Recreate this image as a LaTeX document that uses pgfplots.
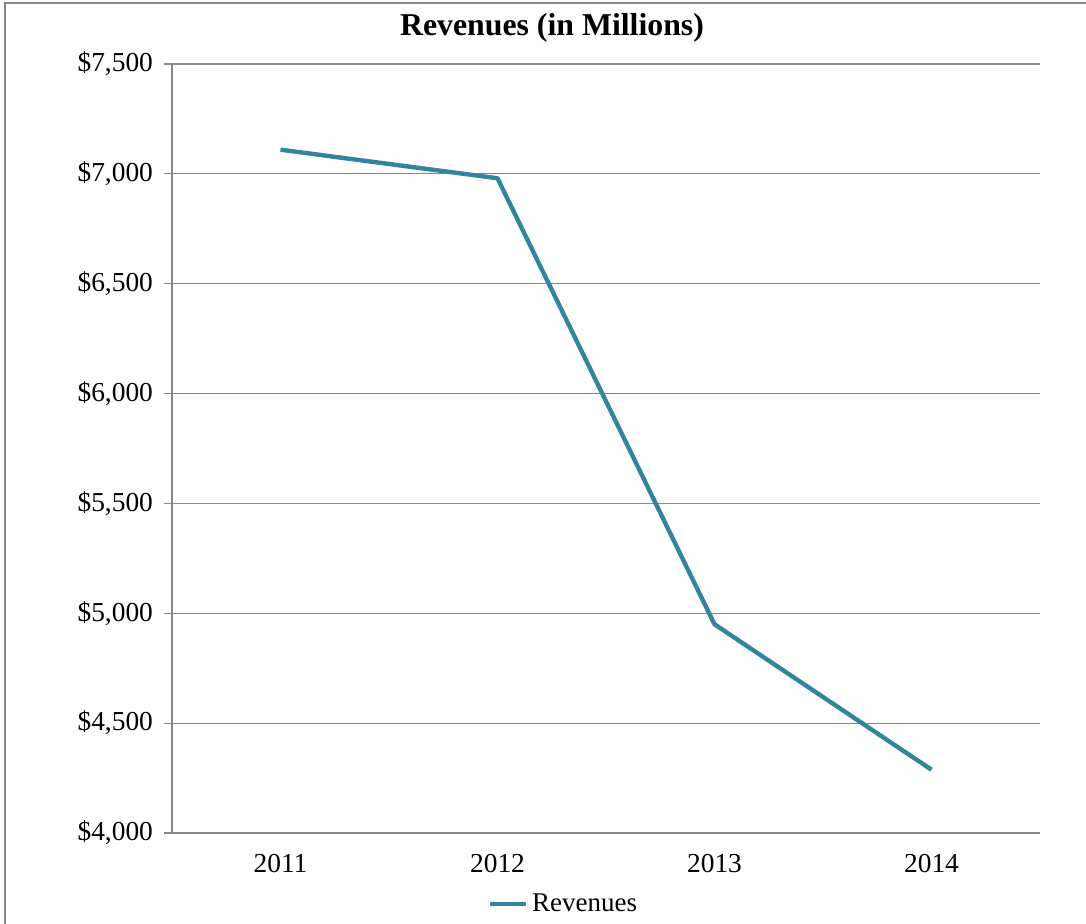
\documentclass[border=0pt]{standalone}
\usepackage{fontspec}
\setmainfont{Liberation Serif}
\usepackage{pgfplots}
\pgfplotsset{compat=1.18}
\definecolor{linecol}{RGB}{49,133,156}
\definecolor{gridcol}{RGB}{134,134,134}
\definecolor{framecol}{RGB}{134,134,134}
\begin{document}
\begin{tikzpicture}
\useasboundingbox (0,0) rectangle (543pt,-462pt);
\draw[framecol, line width=1pt] (2.5pt,-470pt) -- (2.5pt,-1.7pt) -- (560pt,-1.7pt);
\node[font=\fontsize{15.9}{18}\selectfont\bfseries, anchor=center, inner sep=0pt] at (276pt,-13.8pt) {Revenues (in Millions)};
\begin{axis}[
  at={(86pt,-416.5pt)}, anchor=south west,
  width=434pt, height=384.5pt, scale only axis,
  xmin=-0.5, xmax=3.5, ymin=4000, ymax=7500,
  axis x line=bottom, axis y line=left,
  axis line style={-, gridcol, line width=0.6pt},
  xtick={0,1,2,3}, xticklabels={2011,2012,2013,2014},
  major x tick style={draw=none},
  extra x ticks={-0.5,0.5,1.5,2.5,3.5},
  extra x tick labels={},
  extra x tick style={grid=none, major tick length=4pt, tick align=outside, tick style={gridcol, line width=0.6pt}},
  ytick={4000,4500,...,7500},
  ymajorgrids, grid style={gridcol, line width=0.6pt},
  y tick style={gridcol, line width=0.6pt},
  tick align=outside, major tick length=4pt,
  yticklabel={\$\pgfmathprintnumber{\tick}},
  /pgf/number format/.cd, 1000 sep={,}, assume math mode=true, /pgfplots/.cd,
  ticklabel style={font=\fontsize{13.7}{15}\selectfont},
  xticklabel style={yshift=-3pt},
  yticklabel style={xshift=-2pt},
  legend style={at={(axis description cs:0.452,-0.0923)}, anchor=center, draw=none, fill=none, font=\fontsize{13.5}{15}\selectfont, inner sep=0pt},
  legend cell align=left,
  legend image code/.code={\draw[#1] (0pt,0pt) -- (18pt,0pt);},
]
\addplot[linecol, line width=2.2pt, line join=round] coordinates {
  (0,7110) (1,6980) (2,4950) (3,4288)
};
\addlegendentry{Revenues}
\end{axis}
\end{tikzpicture}
\end{document}
